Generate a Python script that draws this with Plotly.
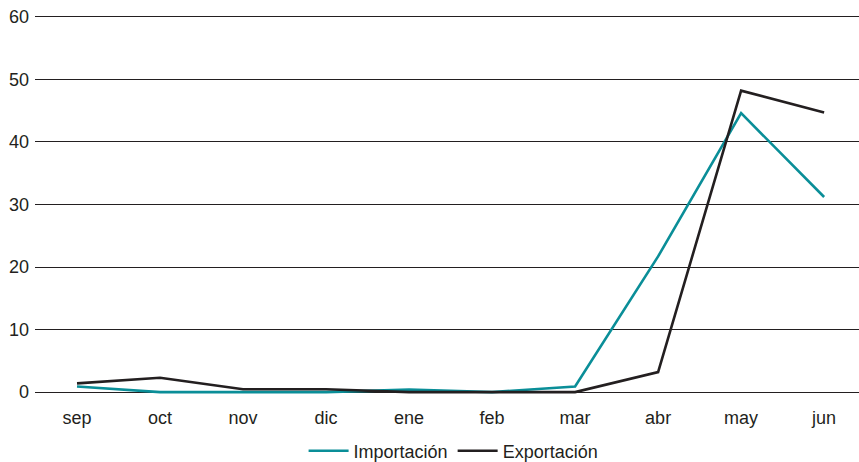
import plotly.graph_objects as go

# Monthly series (sep–jun)
months = ["sep", "oct", "nov", "dic", "ene", "feb", "mar", "abr", "may", "jun"]
importacion = [0.9, 0.0, 0.0, 0.0, 0.4, 0.0, 0.9, 21.7, 44.6, 31.2]
exportacion = [1.4, 2.3, 0.45, 0.45, 0.0, 0.0, 0.0, 3.2, 48.2, 44.7]
y_ticks = [0, 10, 20, 30, 40, 50, 60]

TEAL = "#0a8e98"
DARK = "#231f20"
FONT = "Liberation Sans, Arial, sans-serif"

fig = go.Figure()
fig.add_trace(go.Scatter(
    x=list(range(len(months))), y=importacion, name="Importación",
    mode="lines", line=dict(color=TEAL, width=2.6),
))
fig.add_trace(go.Scatter(
    x=list(range(len(months))), y=exportacion, name="Exportación",
    mode="lines", line=dict(color=DARK, width=2.6),
))

fig.update_layout(
    width=859, height=462,
    margin=dict(l=35, r=0, t=15, b=68, autoexpand=False),
    paper_bgcolor="white", plot_bgcolor="white",
    font=dict(family=FONT, size=18, color=DARK),
    showlegend=True,
    legend=dict(
        orientation="h", x=0.508, xanchor="center",
        yref="container", y=1 - 451 / 462, yanchor="middle",
        font=dict(size=18, color=DARK),
        itemwidth=40, tracegroupgap=0,
    ),
    xaxis=dict(
        tickmode="array", tickvals=list(range(len(months))), ticktext=months,
        range=[-0.506, 9.42], showgrid=False, zeroline=False, showline=False,
        ticks="outside", ticklen=7, tickcolor="rgba(0,0,0,0)",
    ),
    yaxis=dict(
        range=[-0.3, 60.3], tickvals=y_ticks, showgrid=True,
        gridcolor=DARK, gridwidth=1, zeroline=False, showline=False,
        ticks="", ticklabelstandoff=5,
    ),
)

fig.write_html("out.html")
